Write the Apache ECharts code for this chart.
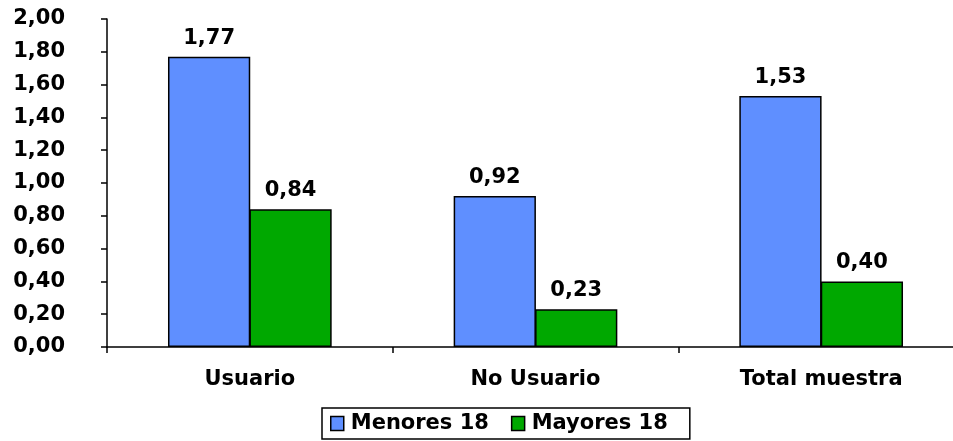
<!DOCTYPE html>
<html>
<head>
<meta charset="utf-8">
<script src="https://cdn.jsdelivr.net/npm/echarts@6/dist/echarts.min.js"></script>
<style>
  html, body { margin: 0; padding: 0; background: #fff; }
  #chart { width: 953px; height: 441px; }
</style>
</head>
<body>
<div id="chart"></div>
<script>
// Chart data
const categories = ['Usuario', 'No Usuario', 'Total muestra'];
const menores18 = [1.77, 0.92, 1.53];
const mayores18 = [0.84, 0.23, 0.40];
const seriesNames = ['Menores 18', 'Mayores 18'];

const fontFamily = 'Verdana, "DejaVu Sans", sans-serif';
const fmt = v => v.toFixed(2).replace('.', ',');

const chart = echarts.init(document.getElementById('chart'));

const labelStyle = {
    show: true,
    position: 'top',
    distance: 8,
    color: '#000',
    fontFamily: fontFamily,
    fontWeight: 'bold',
    fontSize: 21,
    formatter: p => fmt(p.value)
};

const option = {
    backgroundColor: '#fff',
    animation: false,
    textStyle: { fontFamily: fontFamily },
    grid: {
        left: 107,
        right: -11,
        top: 19,
        bottom: 94,
        outerBoundsMode: 'none'
    },
    legend: {
        left: 322,
        top: 408,
        data: seriesNames,
        icon: 'rect',
        orient: 'horizontal',
        itemWidth: 13,
        itemHeight: 14,
        itemGap: 22,
        padding: [5, 22, 5, 8],
        borderColor: '#000',
        borderWidth: 1.5,
        itemStyle: { borderColor: '#000', borderWidth: 1.5 },
        textStyle: {
            color: '#000',
            fontFamily: fontFamily,
            fontWeight: 'bold',
            fontSize: 21,
            padding: [0, 0, 0, 2]
        }
    },
    xAxis: {
        type: 'category',
        data: categories,
        axisLine: { lineStyle: { color: '#000', width: 1.5 } },
        axisTick: { show: true, length: 6, lineStyle: { color: '#000', width: 1.5 } },
        axisLabel: {
            color: '#000',
            fontFamily: fontFamily,
            fontWeight: 'bold',
            fontSize: 21,
            margin: 22
        }
    },
    yAxis: {
        type: 'value',
        min: 0,
        max: 2,
        interval: 0.2,
        axisLine: { show: true, lineStyle: { color: '#000', width: 1.5 } },
        axisTick: { show: true, length: 6, lineStyle: { color: '#000', width: 1.5 } },
        splitLine: { show: false },
        axisLabel: {
            color: '#000',
            fontFamily: fontFamily,
            fontWeight: 'bold',
            fontSize: 21,
            margin: 42,
            formatter: v => fmt(v)
        }
    },
    series: [
        {
            name: seriesNames[0],
            type: 'bar',
            data: menores18,
            barGap: '-1%',
            barCategoryGap: '42.7%',
            itemStyle: { color: '#5f8fff', borderColor: '#000', borderWidth: 1.5 },
            label: labelStyle
        },
        {
            name: seriesNames[1],
            type: 'bar',
            data: mayores18,
            barGap: '-1%',
            barCategoryGap: '42.7%',
            itemStyle: { color: '#00a800', borderColor: '#000', borderWidth: 1.5 },
            label: labelStyle
        }
    ]
};

chart.setOption(option);
</script>
</body>
</html>
